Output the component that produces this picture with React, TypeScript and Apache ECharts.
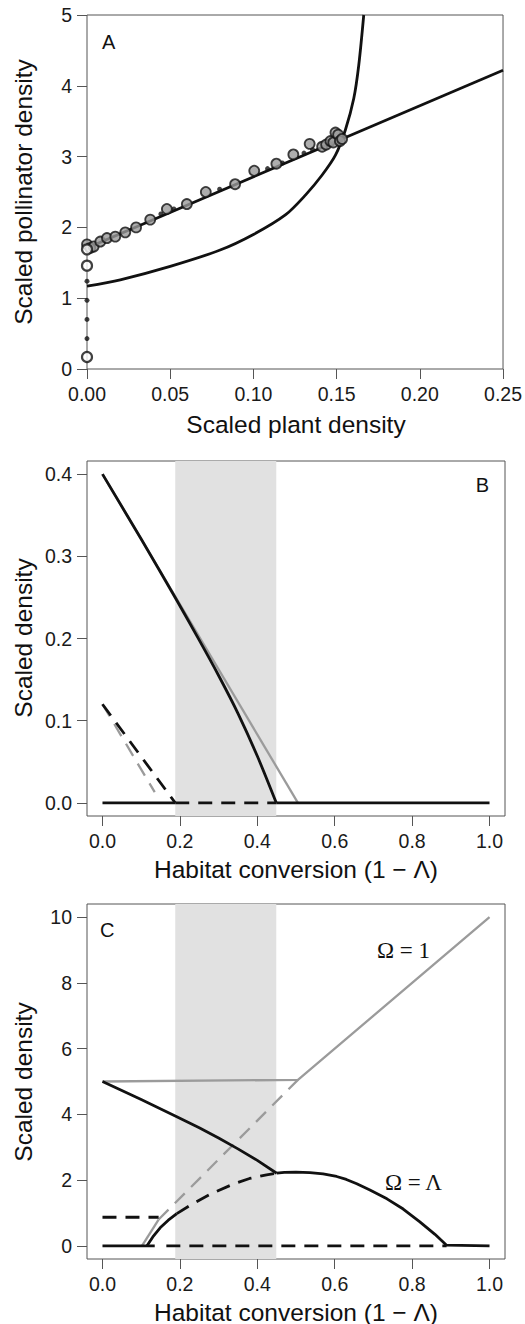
import React, { useEffect, useRef } from "react";
import * as echarts from "echarts";

// ---------- tick values ----------
const xTicksA = [0, 0.05, 0.1, 0.15, 0.2, 0.25];
const yTicksA = [0, 1, 2, 3, 4, 5];
const xTicksBC = [0, 0.2, 0.4, 0.6, 0.8, 1.0];
const yTicksB = [0, 0.1, 0.2, 0.3, 0.4];
const yTicksC = [0, 2, 4, 6, 8, 10];
const shadeBand = [0.188, 0.449];

// ---------- panel A ----------
const pollinatorLineA = [[0, 1.71], [0.25, 4.22]];
const plantCurveA = [
  [0, 1.17], [0.02, 1.26], [0.05, 1.45], [0.08, 1.68], [0.1, 1.9], [0.1194, 2.18],
  [0.1314, 2.46], [0.1413, 2.74], [0.1493, 3.02], [0.1553, 3.38],
  [0.1603, 3.82], [0.1633, 4.29], [0.1663, 5.0],
];
const grayPointsA = [
  [0, 1.76], [0.002, 1.71], [0.004, 1.73], [0.008, 1.8], [0.012, 1.85], [0.017, 1.87],
  [0.023, 1.93], [0.0295, 2.0], [0.038, 2.11], [0.048, 2.26], [0.06, 2.33],
  [0.0714, 2.5], [0.089, 2.61], [0.1005, 2.8], [0.1138, 2.9], [0.124, 3.03],
  [0.1338, 3.18], [0.1413, 3.14], [0.1437, 3.17], [0.1463, 3.22], [0.148, 3.2],
  [0.1493, 3.34], [0.1509, 3.31], [0.152, 3.22], [0.1533, 3.25],
];
const openPointsA = [[0, 1.69], [0, 1.46], [0, 0.17]];
const smallDotsA = [
  [0, 1.24], [0, 0.97], [0, 0.7], [0, 0.43], [0.0444, 2.19], [0.0522, 2.26],
  [0.0797, 2.54], [0.1085, 2.83], [0.1174, 2.91], [0.1304, 3.05], [0.1355, 3.1],
];

// ---------- panel B ----------
const graySolidB = [[0, 0.4], [0.505, 0]];
const blackSolidB = [
  [0, 0.4], [0.1, 0.321], [0.19, 0.248], [0.25, 0.198], [0.3, 0.155],
  [0.35, 0.109], [0.4, 0.057], [0.449, 0],
];
const grayDashedB = [[0, 0.12], [0.135, 0.013]];
const blackDashedB = [[0, 0.12], [0.188, 0]];
const zeroSolidB1 = [[0, 0], [0.188, 0]];
const zeroDashedB = [[0.188, 0], [0.449, 0]];
const zeroSolidB2 = [[0.449, 0], [1.0, 0]];

// ---------- panel C ----------
const grayUpperC = [[0, 5.0], [0.505, 5.05], [1.0, 10.0]];
const grayLowerSolidC = [[0.102, 0], [0.145, 0.8]];
const grayDashedC = [[0.145, 0.8], [0.505, 5.05]];
const blackUpperC = [
  [0, 5.0], [0.1, 4.45], [0.192, 3.93], [0.25, 3.59], [0.3, 3.28],
  [0.35, 2.95], [0.4, 2.6], [0.45, 2.21],
];
const blackDomeC = [
  [0.45, 2.21], [0.47, 2.235], [0.5, 2.245], [0.536, 2.23], [0.57, 2.19],
  [0.605, 2.11], [0.63, 2.02], [0.657, 1.89], [0.691, 1.7], [0.735, 1.43],
  [0.777, 1.12], [0.82, 0.73], [0.859, 0.35], [0.889, 0.02], [1.0, 0],
];
const blackLowerSolidC = [[0.115, 0], [0.13, 0.27], [0.149, 0.55], [0.17, 0.78], [0.192, 0.98]];
const blackLowerDashedC = [
  [0.192, 0.98], [0.226, 1.23], [0.28, 1.58], [0.338, 1.88], [0.38, 2.05],
  [0.424, 2.16], [0.45, 2.21],
];
const blackShelfDashedC = [[0, 0.87], [0.145, 0.87]];
const zeroSolidC1 = [[0, 0], [0.135, 0]];
const zeroDashedC = [[0.165, 0], [0.889, 0]];

const SANS = '"Liberation Sans", Arial, Helvetica, sans-serif';
const SERIF = '"Liberation Serif", "Times New Roman", serif';
const BLACK = "#111111";
const GRAY = "#9b9b9b";
const DASH = [14, 9];
const TICK_FS = 19.5;
const TITLE_FS = 24.5;

function axis(gridIndex: number, min: number, max: number, ticks: number[], fmt: (v: number) => string) {
  return {
    type: "value",
    gridIndex,
    min,
    max,
    axisLine: { show: false, onZero: false },
    splitLine: { show: false },
    axisTick: { show: true, length: 10, customValues: ticks, lineStyle: { color: "#555", width: 1 } },
    axisLabel: {
      show: true,
      customValues: ticks,
      margin: 15,
      fontSize: TICK_FS,
      fontFamily: SANS,
      color: "#1a1a1a",
      formatter: fmt,
      showMinLabel: true,
      showMaxLabel: true,
      hideOverlap: false,
    },
  };
}

function ln(data: number[][], g: number, color: string, width: number, dashed = false, smooth = 0) {
  const s: any = {
    type: "line",
    xAxisIndex: g,
    yAxisIndex: g,
    data,
    showSymbol: false,
    symbol: "none",
    silent: true,
    z: 2,
    lineStyle: { color, width, type: dashed ? DASH : "solid", cap: "butt", join: "round" },
  };
  if (smooth) s.smooth = smooth;
  return s;
}

function band(g: number) {
  return {
    type: "line",
    xAxisIndex: g,
    yAxisIndex: g,
    data: [],
    silent: true,
    markArea: {
      silent: true,
      itemStyle: { color: "#e1e1e1" },
      data: [[{ xAxis: shadeBand[0] }, { xAxis: shadeBand[1] }]],
    },
  };
}

function txt(text: string, x: number, y: number, size: number, opts: any = {}) {
  return {
    type: "text",
    x,
    y,
    rotation: opts.rotation || 0,
    silent: true,
    z: 10,
    style: {
      text,
      fontSize: size,
      fontFamily: opts.font || SANS,
      fill: "#111",
      align: opts.align || "center",
      verticalAlign: "middle",
      textAlign: opts.align || "center",
      textVerticalAlign: "middle",
    },
  };
}

export default function App() {
  const ref = useRef<HTMLDivElement>(null);
  useEffect(() => {
    if (!ref.current) return;
    const chart = echarts.init(ref.current, null, { renderer: "svg" });
    const gridStyle = { show: true, borderColor: "#555", borderWidth: 1, backgroundColor: "transparent" };
    const f2 = (v: number) => v.toFixed(2);
    const f1 = (v: number) => v.toFixed(1);
    const f0 = (v: number) => String(Math.round(v));
    const LW = 2.8;
    const GW = 2.3;
    chart.setOption({
      animation: false,
      grid: [
        { left: 87, top: 15, width: 418, height: 354, ...gridStyle },
        { left: 87, top: 461, width: 418, height: 355, ...gridStyle },
        { left: 87, top: 904, width: 418, height: 355, ...gridStyle },
      ],
      xAxis: [
        axis(0, 0, 0.25, xTicksA, f2),
        axis(1, -0.04, 1.04, xTicksBC, f1),
        axis(2, -0.04, 1.04, xTicksBC, f1),
      ],
      yAxis: [
        axis(0, 0, 5, yTicksA, f0),
        axis(1, -0.016, 0.416, yTicksB, f1),
        axis(2, -0.4, 10.4, yTicksC, f0),
      ],
      series: [
        // Panel A
        ln(pollinatorLineA, 0, BLACK, LW),
        ln(plantCurveA, 0, BLACK, LW, false, 0.3),
        {
          type: "scatter", xAxisIndex: 0, yAxisIndex: 0, data: smallDotsA, symbol: "circle",
          symbolSize: 5, itemStyle: { color: BLACK }, clip: false, silent: true, z: 3,
        },
        {
          type: "scatter", xAxisIndex: 0, yAxisIndex: 0, data: grayPointsA, symbol: "circle",
          symbolSize: 10, itemStyle: { color: "#9a9a9a", borderColor: BLACK, borderWidth: 1.8 },
          clip: false, silent: true, z: 4,
        },
        {
          type: "scatter", xAxisIndex: 0, yAxisIndex: 0, data: openPointsA, symbol: "circle",
          symbolSize: 10, itemStyle: { color: "#ffffff", borderColor: BLACK, borderWidth: 2.2 },
          clip: false, silent: true, z: 4,
        },
        // Panel B
        band(1),
        ln(graySolidB, 1, GRAY, GW),
        ln(grayDashedB, 1, GRAY, GW, true),
        ln(blackDashedB, 1, BLACK, LW, true),
        ln(blackSolidB, 1, BLACK, LW, false, 0.3),
        ln(zeroSolidB1, 1, BLACK, LW),
        ln(zeroDashedB, 1, BLACK, LW, true),
        ln(zeroSolidB2, 1, BLACK, LW),
        // Panel C
        band(2),
        ln(grayUpperC, 2, GRAY, GW),
        ln(grayLowerSolidC, 2, GRAY, GW),
        ln(grayDashedC, 2, GRAY, GW, true),
        ln(blackUpperC, 2, BLACK, LW),
        ln(blackDomeC, 2, BLACK, LW),
        ln(blackLowerSolidC, 2, BLACK, LW),
        ln(blackLowerDashedC, 2, BLACK, LW, true),
        ln(blackShelfDashedC, 2, BLACK, LW, true),
        ln(zeroSolidC1, 2, BLACK, LW),
        ln(zeroDashedC, 2, BLACK, LW, true),
      ],
      graphic: [
        txt("Scaled plant density", 296, 424, TITLE_FS),
        txt("Habitat conversion (1 \u2212 \u039B)", 296, 869, TITLE_FS),
        txt("Habitat conversion (1 \u2212 \u039B)", 296, 1312, TITLE_FS),
        txt("Scaled pollinator density", 23, 192, TITLE_FS, { rotation: Math.PI / 2 }),
        txt("Scaled density", 23, 638, TITLE_FS, { rotation: Math.PI / 2 }),
        txt("Scaled density", 23, 1082, TITLE_FS, { rotation: Math.PI / 2 }),
        txt("A", 102, 42, 20, { align: "left" }),
        txt("B", 489, 485, 20, { align: "right" }),
        txt("C", 100, 930, 20, { align: "left" }),
        txt("\u03A9 = 1", 377, 950, 23, { align: "left", font: SERIF }),
        txt("\u03A9 = \u039B", 385, 1182, 23, { align: "left", font: SERIF }),
      ],
    });
    return () => chart.dispose();
  }, []);
  return (
    <div
      ref={ref}
      style={{ position: "absolute", left: 0, top: 0, width: 525, height: 1324, background: "#fff" }}
    />
  );
}
